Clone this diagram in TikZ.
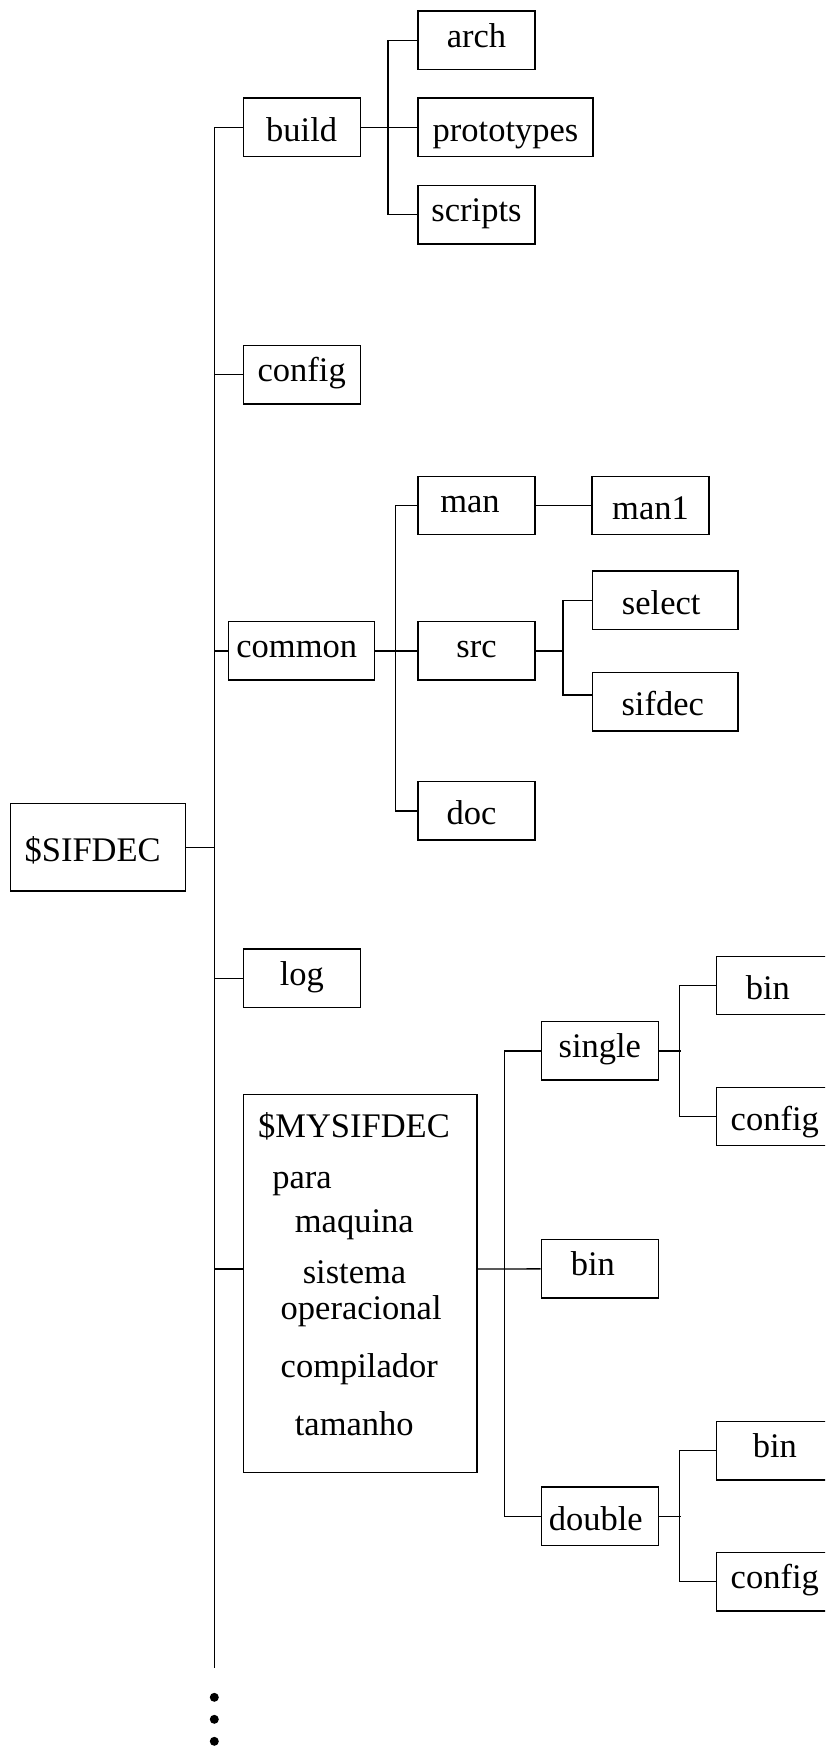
\documentclass[tikz,border=0pt]{standalone}
\usepackage{fontspec}
\setmainfont{Liberation Serif}
\begin{document}
\begin{tikzpicture}[x=1pt,y=-1pt,
  box/.style={draw, line width=1.4pt, inner sep=0pt, minimum height=58.3pt, minimum width=117pt, font=\fontsize{34.5}{40}\selectfont},
  tup/.style={text height=24pt, text depth=10pt},
  tdn/.style={text height=31pt, text depth=3pt},
  txt/.style={anchor=base west, inner sep=0pt, font=\fontsize{34.5}{40}\selectfont},
  conn/.style={line width=1.3pt},
  dot/.style={fill=black, draw=none, circle, minimum size=9pt, inner sep=0pt}]
\useasboundingbox (0,0) rectangle (825,1748);
\clip (0,0) rectangle (825,1748);

% level 1
\node[box,tdn,minimum width=175pt,minimum height=87.7pt] (sif) at (98.2,847.2) {\$SIFDEC\hspace*{11pt}};
\node[box,tdn] (build) at (301.7,127.3) {build};
\node[box,tup] (config) at (301.7,374.7) {config};
\node[box,tup,minimum width=146pt] (common) at (301.75,650.85) {common\hspace*{10pt}};
\node[box,tup] (log) at (301.8,978.2) {log};
\node[box,minimum width=233.1pt,minimum height=378pt] (mys) at (360.25,1283.3) {};

% MYSIFDEC text
\node[txt] (t1) at (257.9,1137.3) {\$MYSIFDEC};
\node[txt] (t2) at (272.1,1188.3) {para};
\node[txt] (t3) at (294.7,1232.7) {maquina};
\node[txt] (t4) at (302.6,1283.3) {sistema};
\node[txt] (t5) at (280.5,1319.3) {operacional};
\node[txt] (t6) at (280.5,1377.3) {compilador};
\node[txt] (t7) at (294.7,1435) {tamanho};

% build children
\node[box,tup] (arch) at (476.5,40.2) {arch};
\node[box,tdn,minimum width=175pt] (proto) at (505.5,127.3) {prototypes};
\node[box,tup] (scripts) at (476.5,214.8) {scripts};

% common children
\node[box,tup] (man) at (476.5,505.5) {man\hspace*{13pt}};
\node[box,tdn] (man1) at (650.5,505.5) {man1};
\node[box,tup] (src) at (476.5,650.85) {src};
\node[box,tdn] (doc) at (476.5,810.85) {doc\hspace*{10pt}};
\node[box,tdn,minimum width=145.5pt] (select) at (665.25,600.15) {select\hspace*{8pt}};
\node[box,tdn,minimum width=145.5pt] (sifdec) at (665.25,701.85) {sifdec\hspace*{5pt}};

% MYSIFDEC children
\node[box,tup] (single) at (599.8,1050.85) {single};
\node[box,tup] (mbin) at (599.8,1268.85) {bin\hspace*{14pt}};
\node[box,tdn] (double) at (599.8,1516.15) {double\hspace*{8pt}};
\node[box,tdn] (sbin) at (774.8,985.35) {bin\hspace*{14pt}};
\node[box,tdn] (sconf) at (774.8,1116.5) {config};
\node[box,tup] (dbin) at (774.8,1450.7) {bin};
\node[box,tup] (dconf) at (774.8,1581.7) {config};

% coordinates
\coordinate (trunkbot) at (214.3,1668.3);
\coordinate (mysL) at ([yshift=14.3pt]mys.west);
\coordinate (mysR) at ([yshift=14.3pt]mys.east);
\coordinate (sifdecL) at ([yshift=6.85pt]sifdec.west);

% trunk
\draw[conn] (build.west) -| (trunkbot);
\draw[conn] (config.west) -- (config.west -| trunkbot);
\draw[conn] (common.west) -- (common.west -| trunkbot);
\draw[conn] (sif.east) -- (sif.east -| trunkbot);
\draw[conn] (log.west) -- (log.west -| trunkbot);
\draw[conn] (mysL) -- (mysL -| trunkbot);

% build subtree
\draw[conn] (build.east) -- (proto.west);
\draw[conn] (arch.west) -- ++(-29.2,0) |- (scripts.west);

% common subtree
\draw[conn] (common.east) -- (src.west);
\draw[conn] (man.west) -- ++(-21.5,0) |- (doc.west);
\draw[conn] (man.east) -- (man1.west);
\draw[conn] (src.east) -- ++(28.7,0);
\draw[conn] (select.west) -- ++(-28.8,0) |- (sifdecL);

% MYSIFDEC subtree
\draw[conn] (mysR) -- (mbin.west);
\draw[conn] (single.west) -- ++(-36.3,0) |- (double.west);
\draw[conn] (single.east) -- ++(22,0);
\draw[conn] (sbin.west) -- ++(-36.3,0) |- (sconf.west);
\draw[conn] (double.east) -- ++(22,0);
\draw[conn] (dbin.west) -- ++(-36.3,0) |- (dconf.west);

% dots
\node[dot] (d1) at (214.3,1697.3) {};
\node[dot] (d2) at (214.3,1719.3) {};
\node[dot] (d3) at (214.3,1741.3) {};
\end{tikzpicture}
\end{document}
